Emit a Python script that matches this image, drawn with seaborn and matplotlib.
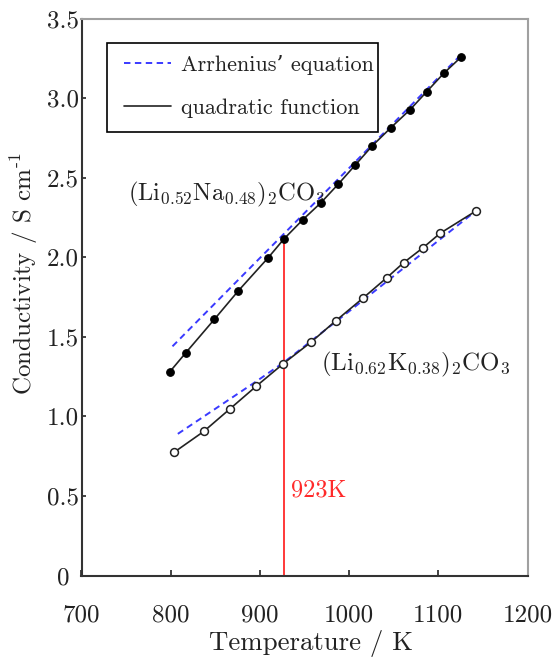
import matplotlib
matplotlib.use("Agg")
import matplotlib.pyplot as plt
import seaborn as sns
import pandas as pd
from matplotlib.lines import Line2D
from matplotlib.patches import Rectangle

# ---- data ----
na_T = [799, 817, 849, 876, 909, 927, 948, 968, 988, 1007, 1026, 1047, 1068, 1087, 1106, 1126]
na_S = [1.28, 1.40, 1.61, 1.79, 1.995, 2.115, 2.235, 2.34, 2.46, 2.58, 2.70, 2.815, 2.925, 3.04, 3.155, 3.26]
k_T = [804, 837, 866, 896, 926, 957, 985, 1016, 1042, 1061, 1083, 1102, 1142]
k_S = [0.775, 0.905, 1.045, 1.19, 1.33, 1.465, 1.60, 1.745, 1.87, 1.965, 2.06, 2.15, 2.29]
arr_na_T = [802, 900, 1000, 1125]
arr_na_S = [1.44, 1.995, 2.56, 3.27]
arr_k_T = [808, 896, 927, 1000, 1142]
arr_k_S = [0.89, 1.22, 1.34, 1.66, 2.29]
x_ticks = [700, 800, 900, 1000, 1100, 1200]
x_tick_labels = ["700", "800", "900", "1000", "1100", "1200"]
y_ticks = [0, 0.5, 1.0, 1.5, 2.0, 2.5, 3.0, 3.5]
y_tick_labels = ["0", "0.5", "1.0", "1.5", "2.0", "2.5", "3.0", "3.5"]
marker_T = 926.5          # drawn position of the 923 K line
marker_S = 2.115
marker_text = "923K"
label_na = r"$\mathrm{(Li_{0.52}Na_{0.48})_2CO_3}$"
label_k = r"$\mathrm{(Li_{0.62}K_{0.38})_2CO_3}$"
legend_labels = ["Arrhenius’ equation", "quadratic function"]
ylabel_text = r"Conductivity / S cm$^{\text{-}1}$"
ylabel_text_alt = r"Conductivity / S cm$^{\rm -1}$"

sns.set_theme(style="white")
plt.rcParams["font.family"] = ["cmr10", "DejaVu Serif"]
plt.rcParams["mathtext.fontset"] = "cm"
plt.rcParams["axes.formatter.use_mathtext"] = True
plt.rcParams["axes.unicode_minus"] = False

fig = plt.figure(figsize=(5.57, 6.60), dpi=100)
ax = fig.add_axes([81.5 / 557, 1 - 575.5 / 660, 446 / 557, 557 / 660])

df_na = pd.DataFrame({"T": na_T, "S": na_S})
df_k = pd.DataFrame({"T": k_T, "S": k_S})
df_arr_na = pd.DataFrame({"T": arr_na_T, "S": arr_na_S})
df_arr_k = pd.DataFrame({"T": arr_k_T, "S": arr_k_S})

blue = "#3a3aff"
dash = (0, (3.3, 2.3))
ax.plot([marker_T, marker_T], [0, marker_S], color="#ff2a2a", lw=1.3, zorder=1)

sns.lineplot(data=df_arr_na, x="T", y="S", ax=ax, color=blue, lw=1.4,
             estimator=None, sort=True, zorder=2)
sns.lineplot(data=df_arr_k, x="T", y="S", ax=ax, color=blue, lw=1.4,
             estimator=None, sort=True, zorder=2)
for l in ax.get_lines()[1:]:
    l.set_linestyle(dash)

sns.lineplot(data=df_na, x="T", y="S", ax=ax, color="#222222", lw=1.2,
             estimator=None, sort=True, zorder=3)
sns.lineplot(data=df_k, x="T", y="S", ax=ax, color="#222222", lw=1.2,
             estimator=None, sort=True, zorder=3)

sns.scatterplot(data=df_na, x="T", y="S", ax=ax, color="black", s=30,
                edgecolor="black", linewidth=0.8, zorder=4)
sns.scatterplot(data=df_k, x="T", y="S", ax=ax, facecolor="white", s=32,
                edgecolor="#222222", linewidth=1.1, zorder=4)

ax.set_xlim(700, 1200)
ax.set_ylim(0, 3.5)
ax.set_xticks(x_ticks)
ax.set_xticklabels(x_tick_labels)
ax.set_yticks(y_ticks)
ax.set_yticklabels(y_tick_labels, ha="center")
ax.tick_params(axis="x", direction="in", length=4, width=1.2, pad=21,
               labelsize=18, colors="#222222")
ax.tick_params(axis="y", direction="in", length=3, width=1.2, pad=13.5,
               labelsize=18, colors="#222222")
ax.tick_params(axis="both", left=True, bottom=True)

for side in ["left", "bottom"]:
    ax.spines[side].set_color("#333333")
    ax.spines[side].set_linewidth(1.5)
for side in ["top", "right"]:
    ax.spines[side].set_color("#a0a0a0")
    ax.spines[side].set_linewidth(1.5)

ax.set_xlabel("Temperature / K", fontsize=19.3, color="#222222")
ax.set_ylabel(ylabel_text, fontsize=18, color="#222222")
try:
    fig.canvas.draw()
except Exception:
    ax.set_ylabel(ylabel_text_alt, fontsize=18, color="#222222")
ax.xaxis.set_label_coords(0.515, -0.097)
ax.yaxis.set_label_coords(-0.093, 0.541)

ax.text(752, 2.357, label_na, fontsize=17.7, color="#222222", ha="left", va="baseline")
ax.text(968, 1.29, label_k, fontsize=18, color="#222222", ha="left", va="baseline")
ax.text(934.5, 0.495, marker_text, fontsize=17.5, color="#ff2a2a", ha="left", va="baseline")

# legend box
x0 = (107 - 81.5) / 446
x1 = (378 - 81.5) / 446
y1 = (575.5 - 43) / 557
y0 = (575.5 - 132) / 557
ax.add_patch(Rectangle((x0, y0), x1 - x0, y1 - y0, transform=ax.transAxes,
                       fill=True, facecolor="white", edgecolor="black",
                       lw=1.2, zorder=5))
handles = [Line2D([], [], color=blue, lw=1.4, linestyle=dash),
           Line2D([], [], color="#222222", lw=1.2)]
leg = ax.legend(handles, legend_labels, loc="upper left",
                bbox_to_anchor=((124 - 81.5) / 446, (575.5 - 55) / 557),
                fontsize=16, frameon=False,
                handlelength=2.1, handletextpad=0.45, labelspacing=1.05,
                borderpad=0, borderaxespad=0)
leg.set_zorder(6)
for t in leg.get_texts():
    t.set_color("#222222")

fig.savefig("out.png", dpi=100)
